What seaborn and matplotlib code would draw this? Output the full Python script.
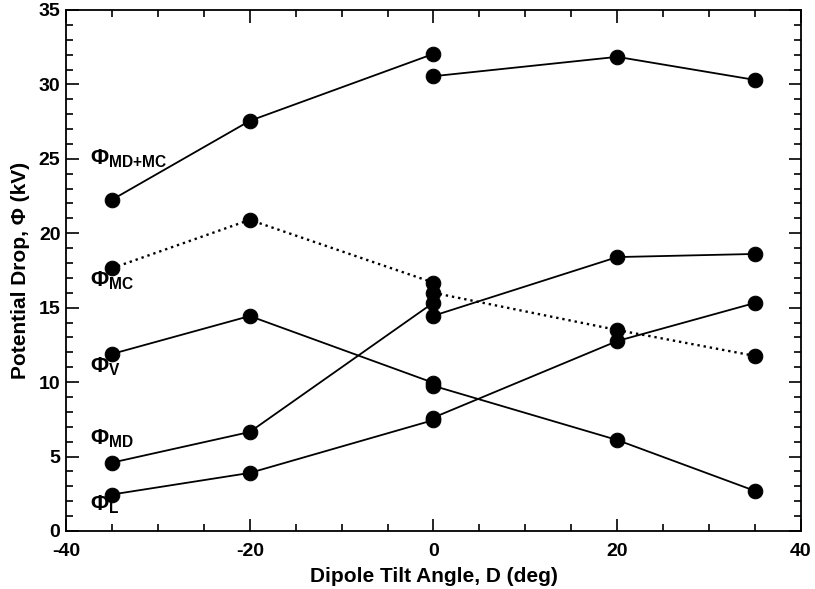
import numpy as np
import pandas as pd
import seaborn as sns
import matplotlib
matplotlib.use("Agg")
import matplotlib.pyplot as plt
from matplotlib.ticker import MultipleLocator

sns.set_style("ticks", {"axes.edgecolor": "black", "text.color": "black",
                        "axes.labelcolor": "black", "xtick.color": "black",
                        "ytick.color": "black"})
plt.rcParams['font.family'] = ['Liberation Sans', 'DejaVu Sans']
plt.rcParams['font.weight'] = 'bold'
plt.rcParams['axes.unicode_minus'] = False
plt.rcParams['mathtext.fontset'] = 'custom'
plt.rcParams['mathtext.rm'] = 'Liberation Sans:bold'
plt.rcParams['mathtext.bf'] = 'Liberation Sans:bold'
plt.rcParams['mathtext.it'] = 'Liberation Sans:bold'

# negative tilt runs and positive tilt runs (both end at D = 0)
tilt_neg = [-35, -20, 0]
tilt_pos = [0, 20, 35]

mdmc_neg = [22.25, 27.55, 32.05]
mdmc_pos = [30.55, 31.85, 30.3]
mc_neg = [17.65, 20.9, 16.68]
mc_pos = [16.0, 13.5, 11.76]
v_neg = [11.89, 14.44, 9.95]
v_pos = [9.75, 6.11, 2.69]
md_neg = [4.59, 6.65, 15.34]
md_pos = [14.46, 18.4, 18.61]
l_neg = [2.45, 3.9, 7.45]
l_pos = [7.62, 12.76, 15.32]

names = ["MD{+}MC", "MC", "V", "MD", "L"]
neg_vals = [mdmc_neg, mc_neg, v_neg, md_neg, l_neg]
pos_vals = [mdmc_pos, mc_pos, v_pos, md_pos, l_pos]
label_y = [24.65, 16.41, 10.63, 5.84, 1.41]

rows = []
for name, nv, pv in zip(names, neg_vals, pos_vals):
    for x, y in zip(tilt_neg, nv):
        rows.append((name, name + "_neg", x, y))
    for x, y in zip(tilt_pos, pv):
        rows.append((name, name + "_pos", x, y))
df = pd.DataFrame(rows, columns=["series", "seg", "tilt", "phi"])

fig = plt.figure(figsize=(8.15, 5.89), dpi=100)
ax = fig.add_axes([0.081, 0.0985, 0.9018, 0.8846])

for seg, d in df.groupby("seg"):
    dotted = d.series.iloc[0] == "MC"
    sns.lineplot(data=d, x="tilt", y="phi", color="black",
                 linestyle=":" if dotted else "-",
                 linewidth=1.7 if dotted else 1.3, marker="o", markersize=10.5,
                 markeredgecolor="black", ax=ax, estimator=None, sort=False)

for name, ly in zip(names, label_y):
    ax.text(-37.4, ly, r"$\Phi_{\mathrm{" + name + "}}$", fontsize=16,
            ha="left", va="baseline", color="black")

ax.set_xlim(-40, 40)
ax.set_ylim(0, 35)
ax.xaxis.set_major_locator(MultipleLocator(20))
ax.xaxis.set_minor_locator(MultipleLocator(5))
ax.yaxis.set_major_locator(MultipleLocator(5))
ax.yaxis.set_minor_locator(MultipleLocator(1))
ax.tick_params(which="both", direction="in", top=True, right=True, width=1.2,
               color="black", labelcolor="black")
ax.tick_params(which="major", length=9, labelsize=14)
ax.tick_params(axis="y", which="major", pad=4)
ax.tick_params(axis="x", which="major", pad=9)
ax.tick_params(which="minor", length=5)
for sp in ax.spines.values():
    sp.set_linewidth(1.3)
    sp.set_color("black")

ax.set_xlabel("Dipole Tilt Angle, D (deg)", fontsize=15, fontweight="bold",
              labelpad=5, color="black")
ax.set_ylabel("Potential Drop, \u03a6 (kV)", fontsize=15, fontweight="bold",
              labelpad=6, color="black")

fig.savefig("out.png", dpi=100)
